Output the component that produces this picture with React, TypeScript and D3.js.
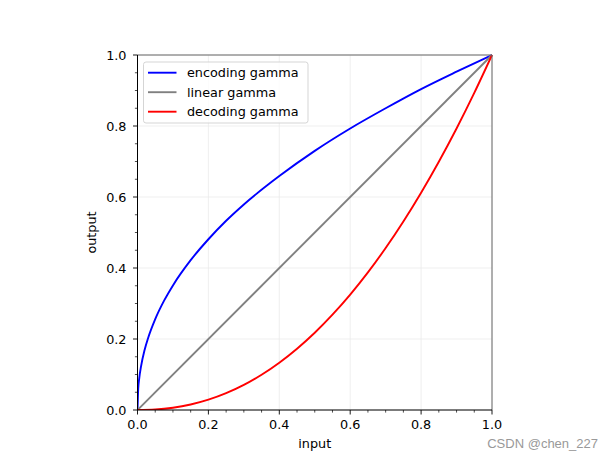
import React from "react";
import * as d3 from "d3";

const encX = [0, 0.002, 0.005, 0.01, 0.02, 0.03, 0.05, 0.075, 0.1, 0.15, 0.2, 0.25, 0.3, 0.4, 0.5, 0.6, 0.7, 0.8, 0.9, 1.0];
const encY = [0, 0.059, 0.09, 0.123, 0.169, 0.203, 0.256, 0.308, 0.351, 0.422, 0.481, 0.533, 0.579, 0.659, 0.73, 0.793, 0.85, 0.904, 0.953, 1.0];
const linX = [0, 1];
const linY = [0, 1];
const decX = [0, 0.05, 0.1, 0.15, 0.2, 0.25, 0.3, 0.35, 0.4, 0.45, 0.5, 0.55, 0.6, 0.65, 0.7, 0.75, 0.8, 0.85, 0.9, 0.95, 1.0];
const decY = [0, 0.0014, 0.0063, 0.0154, 0.029, 0.0474, 0.0707, 0.0993, 0.1332, 0.1726, 0.2176, 0.2684, 0.325, 0.3876, 0.4563, 0.5311, 0.6121, 0.6994, 0.7931, 0.8933, 1.0];
const seriesNames = ["encoding gamma", "linear gamma", "decoding gamma"];
const seriesColors = ["#0000ff", "#808080", "#ff0000"];
const majorTicks = [0, 0.2, 0.4, 0.6, 0.8, 1.0];
const xLabel = "input";
const yLabel = "output";
const watermark = "CSDN @chen_227";

export default function App() {
  const W = 614, H = 461;
  const L = 137.5, R = 492, T = 55, B = 410;
  const x = d3.scaleLinear().domain([0, 1]).range([L, R]);
  const y = d3.scaleLinear().domain([0, 1]).range([B, T]);
  const minor = d3.range(0, 1.0001, 0.05).map((v) => Math.round(v * 100) / 100).filter((v) => !majorTicks.some((m) => Math.abs(m - v) < 1e-6));
  const line = d3.line<[number, number]>().x((d) => x(d[0])).y((d) => y(d[1])).curve(d3.curveMonotoneX);
  const series: [number[], number[]][] = [[encX, encY], [linX, linY], [decX, decY]];
  const font = "DejaVu Sans, sans-serif";
  return (
    <svg width={W} height={H} style={{ position: "absolute", left: 0, top: 0 }} fontFamily={font}>
      <rect width={W} height={H} fill="#fff" />
      {majorTicks.map((t) => (
        <g key={"g" + t}>
          <line x1={x(t)} x2={x(t)} y1={T} y2={B} stroke="#ebebeb" strokeWidth={0.8} />
          <line x1={L} x2={R} y1={y(t)} y2={y(t)} stroke="#ebebeb" strokeWidth={0.8} />
        </g>
      ))}
      <defs>
        <clipPath id="clip"><rect x={L} y={T - 2} width={R - L + 2} height={B - T + 2} /></clipPath>
      </defs>
      <g clipPath="url(#clip)">
        {series.map(([xs, ys], i) => (
          <path key={i} d={line(xs.map((v, j) => [v, ys[j]] as [number, number])) || ""} fill="none" stroke={seriesColors[i]} strokeWidth={1.9} />
        ))}
      </g>
      <line x1={L} x2={R} y1={T} y2={T} stroke="#666" strokeWidth={1} />
      <line x1={R} x2={R} y1={T} y2={B} stroke="#666" strokeWidth={1} />
      <line x1={L} x2={L} y1={T} y2={B} stroke="#000" strokeWidth={1} />
      <line x1={L} x2={R} y1={B} y2={B} stroke="#000" strokeWidth={1} />
      {majorTicks.map((t) => (
        <g key={"t" + t}>
          <line x1={x(t)} x2={x(t)} y1={B} y2={B + 4.5} stroke="#000" strokeWidth={0.9} />
          <text x={x(t)} y={429.3} textAnchor="middle" fontSize={12.8} fill="#000">{t.toFixed(1)}</text>
          <line x1={L - 4.5} x2={L} y1={y(t)} y2={y(t)} stroke="#000" strokeWidth={0.9} />
          <text x={126.5} y={y(t) + 4.6} textAnchor="end" fontSize={12.8} fill="#000">{t.toFixed(1)}</text>
        </g>
      ))}
      {minor.map((t) => (
        <g key={"m" + t}>
          <line x1={x(t)} x2={x(t)} y1={B} y2={B + 2.6} stroke="#000" strokeWidth={0.7} />
          <line x1={L - 2.6} x2={L} y1={y(t)} y2={y(t)} stroke="#000" strokeWidth={0.7} />
        </g>
      ))}
      <text x={(L + R) / 2} y={447.5} textAnchor="middle" fontSize={12.8} fill="#000">{xLabel}</text>
      <text transform={`translate(96,${(T + B) / 2}) rotate(-90)`} textAnchor="middle" fontSize={12.8} fill="#000">{yLabel}</text>
      <rect x={143.5} y={62} width={164.5} height={61} rx={2.5} fill="#fff" fillOpacity={0.8} stroke="#d0d0d0" strokeWidth={0.9} />
      {seriesNames.map((n, i) => (
        <g key={n}>
          <line x1={148} x2={176.5} y1={72.7 + i * 19.5} y2={72.7 + i * 19.5} stroke={seriesColors[i]} strokeWidth={1.9} />
          <text x={187} y={72.7 + i * 19.5 + 4.6} fontSize={12.8} fill="#000">{n}</text>
        </g>
      ))}
      <text x={598} y={448} textAnchor="end" fontSize={13} fill="#999" fontFamily="Liberation Sans, Arial, sans-serif">{watermark}</text>
    </svg>
  );
}
